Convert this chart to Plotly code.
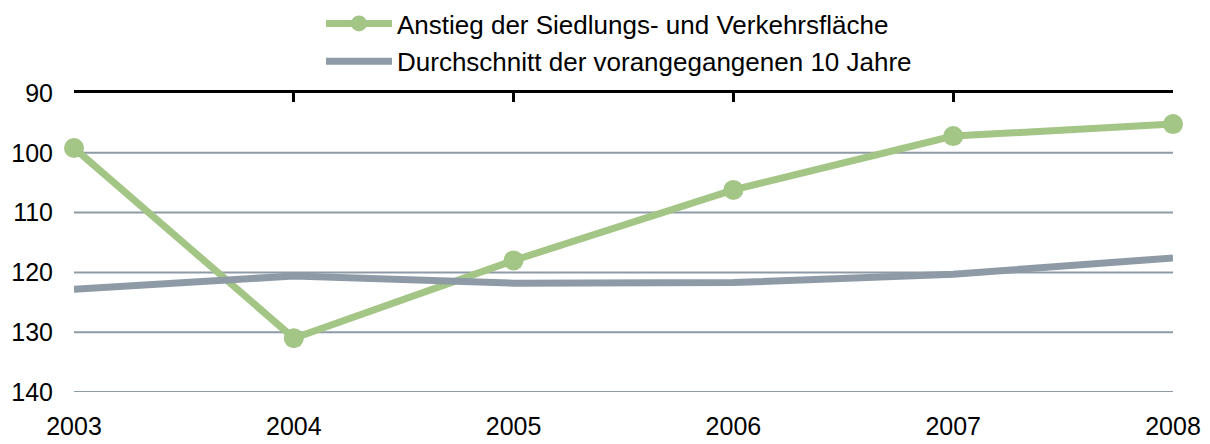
import plotly.graph_objects as go

years = [2003, 2004, 2005, 2006, 2007, 2008]
anstieg = [99.2, 131.0, 118.0, 106.2, 97.2, 95.2]
durchschnitt = [122.8, 120.6, 121.8, 121.7, 120.3, 117.6]

green = "#A3C585"
grey = "#8E9BA7"
font = "Liberation Sans, Arial, sans-serif"

fig = go.Figure()
fig.add_trace(go.Scatter(
    x=years, y=anstieg, mode="lines+markers",
    name="Anstieg der Siedlungs- und Verkehrsfläche",
    line=dict(color=green, width=7),
    marker=dict(color=green, size=20),
    cliponaxis=False, legendgroup="a",
))
fig.add_trace(go.Scatter(
    x=years, y=durchschnitt, mode="lines",
    name="Durchschnitt der vorangegangenen 10 Jahre",
    line=dict(color=grey, width=7),
    cliponaxis=False, legendgroup="b",
))
# invisible trace carrying the top axis line with its tick marks
fig.add_trace(go.Scatter(x=years, y=[None] * 6, xaxis="x2", showlegend=False,
                         hoverinfo="skip"))

fig.update_layout(
    width=1210, height=444,
    margin=dict(l=74, r=37, t=93, b=52, autoexpand=False),
    paper_bgcolor="white", plot_bgcolor="white",
    font=dict(family=font, size=25, color="black"),
    showlegend=True,
    legend=dict(
        orientation="v", x=321 / 1210, xanchor="left", xref="container",
        y=1.0, yanchor="top", yref="container", font=dict(size=26),
        itemwidth=66, tracegroupgap=1, traceorder="grouped",
    ),
    xaxis=dict(
        range=[2003, 2008], tickvals=years, ticktext=[str(y) for y in years],
        showgrid=False, zeroline=False, showline=False, ticks="",
        ticklabelstandoff=17, automargin=False, tickfont=dict(size=25),
    ),
    xaxis2=dict(
        range=[2003, 2008], overlaying="x", side="top", tickvals=years,
        showticklabels=False, showline=True, linecolor="black", linewidth=3,
        ticks="inside", ticklen=9, tickwidth=3, tickcolor="black",
        showgrid=False, zeroline=False, automargin=False,
    ),
    yaxis=dict(
        range=[140, 90], tickvals=[90, 100, 110, 120, 130, 140],
        showgrid=False, zeroline=False, showline=False, ticks="",
        ticklabelstandoff=20, automargin=False,
    ),
)

# horizontal gridlines at 100..140
for v in [100, 110, 120, 130, 140]:
    fig.add_shape(type="line", xref="x", yref="y", x0=2003, x1=2008, y0=v, y1=v,
                  line=dict(color=grey, width=2), layer="below")

fig.write_html("out.html")
